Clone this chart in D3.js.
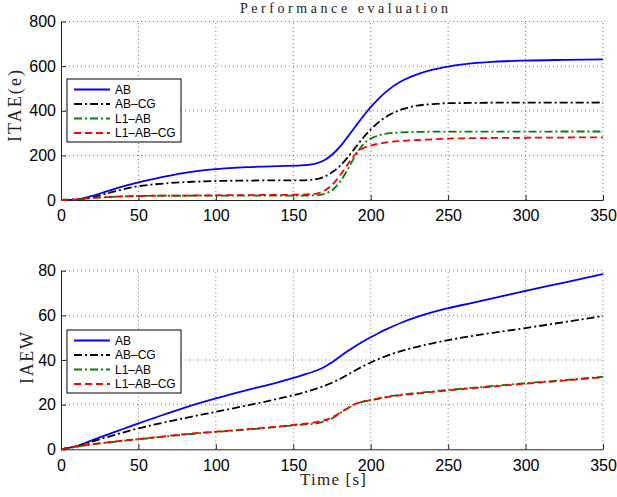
<!doctype html>
<html lang="en">
  <head>
    <meta charset="utf-8">
    <title>Performance evaluation</title>
    <script src="https://d3js.org/d3.v7.min.js"></script>
    <style>
      body { margin: 0; background: #fff; }
      .tick text { font-family: "Liberation Sans", Arial, sans-serif; font-size: 16px; fill: #000; }
      .lbl { font-family: "Liberation Serif", "DejaVu Serif", serif; fill: #222; }
      .legend text { font-family: "Liberation Sans", Arial, sans-serif; font-size: 12px; fill: #000; }
    </style>
  </head>
  <body>
    <div id="chart"></div>
    <script>
    // sample times [s]
    var time = [0, 10, 20, 30, 40, 50, 60, 80, 100, 120, 140, 155, 165, 170, 175, 180, 185, 190, 195, 200, 205, 210, 220, 230, 240, 250, 265, 280, 300, 325, 350];

    var seriesNames = ['AB', 'AB–CG', 'L1–AB', 'L1–AB–CG'];

    // ITAE(e)
    var itaeAB     = [0, 2, 18, 40, 61, 79, 95, 122, 138, 147, 152, 155, 164, 178, 203, 238, 282, 328, 374, 416, 453, 486, 533, 563, 584, 598, 612, 620, 625, 628, 630];
    var itaeABCG   = [0, 2, 12, 30, 48, 62, 70, 80, 85, 87, 88, 88, 94, 104, 124, 152, 190, 234, 278, 316, 348, 373, 406, 423, 430, 434, 435, 436, 436, 436, 437];
    var itaeL1AB   = [0, 3, 9, 13, 16, 18, 19, 19, 20, 20, 20, 20, 21, 27, 44, 80, 135, 198, 248, 275, 289, 297, 303, 305, 306, 306, 306, 306, 306, 307, 307];
    var itaeL1ABCG = [0, 3, 9, 13, 16, 18, 19, 20, 21, 22, 23, 24, 29, 41, 68, 108, 158, 205, 232, 244, 252, 258, 265, 269, 272, 275, 277, 278, 279, 280, 281];

    // IAEW
    var iaewAB     = [0, 1.4, 4, 6.6, 9.1, 11.6, 14, 18.7, 22.8, 26.5, 30, 33, 35.3, 36.9, 39, 41.5, 43.9, 46.2, 48.3, 50.2, 52, 53.7, 56.8, 59.3, 61.4, 63.2, 65.5, 67.8, 71, 74.7, 78.5];
    var iaewABCG   = [0, 1.3, 3.4, 5.5, 7.5, 9.4, 11, 14, 16.8, 19.6, 22.6, 25.1, 27.2, 28.4, 29.8, 31.5, 33.4, 35.3, 37.2, 38.9, 40.4, 41.8, 44.1, 45.9, 47.5, 48.9, 50.7, 52.3, 54.3, 57, 59.7];
    var iaewL1AB   = [0, 1.2, 2.2, 3, 3.8, 4.5, 5.2, 6.6, 7.8, 8.8, 10, 11, 11.6, 12.4, 13.8, 16, 18.3, 20.2, 21.4, 22.1, 22.8, 23.5, 24.5, 25.2, 25.9, 26.6, 27.5, 28.4, 29.6, 31, 32.5];
    var iaewL1ABCG = [0, 1.2, 2.3, 3.1, 3.9, 4.6, 5.3, 6.8, 7.9, 9, 10.2, 11.3, 12.2, 13, 14.3, 16.3, 18.4, 20.3, 21.3, 22, 22.6, 23.3, 24.3, 25, 25.7, 26.4, 27.3, 28.2, 29.4, 30.8, 32.3];

    var xTicks = [0, 50, 100, 150, 200, 250, 300, 350];
    var itaeTicks = [0, 200, 400, 600, 800];
    var iaewTicks = [0, 20, 40, 60, 80];

    var colors = ['#0000ff', '#000000', '#008000', '#ff0000'];
    var dashes = [null, '8,3,2,3', '8,3,2,3', '7,4'];

    var svg = d3.select('#chart').append('svg')
      .attr('width', 617).attr('height', 497);

    var x = d3.scaleLinear().domain([0, 350]).range([61, 603]);

    function panel(yDomain, yRange, yTicks, data, legendTop) {
      var y = d3.scaleLinear().domain(yDomain).range(yRange);
      var g = svg.append('g');

      // dotted grid
      g.append('g').selectAll('line.v').data(xTicks.slice(1)).enter().append('line')
        .attr('x1', d => x(d)).attr('x2', d => x(d))
        .attr('y1', y.range()[0]).attr('y2', y.range()[1])
        .attr('stroke', '#555').attr('stroke-width', 0.8).attr('stroke-dasharray', '1,3');
      g.append('g').selectAll('line.h').data(yTicks.slice(1)).enter().append('line')
        .attr('y1', d => y(d)).attr('y2', d => y(d))
        .attr('x1', x.range()[0]).attr('x2', x.range()[1])
        .attr('stroke', '#555').attr('stroke-width', 0.8).attr('stroke-dasharray', '1,3');

      // axes, ticks pointing inwards
      g.append('g')
        .attr('transform', 'translate(0,' + y.range()[0] + ')')
        .call(d3.axisBottom(x).tickValues(xTicks).tickSizeInner(-5).tickSizeOuter(0).tickPadding(10))
        .call(a => a.select('.domain').attr('stroke', '#222'))
        .call(a => a.selectAll('.tick line').attr('stroke', '#222'));
      g.append('g')
        .attr('transform', 'translate(' + x.range()[0] + ',0)')
        .call(d3.axisLeft(y).tickValues(yTicks).tickSizeInner(-5).tickSizeOuter(0).tickPadding(5))
        .call(a => a.select('.domain').attr('stroke', '#222'))
        .call(a => a.selectAll('.tick line').attr('stroke', '#222'));

      // curves
      var line = d3.line().x((d, i) => x(time[i])).y(d => y(d)).curve(d3.curveMonotoneX);
      data.forEach(function(s, k) {
        g.append('path').datum(s)
          .attr('d', line)
          .attr('fill', 'none')
          .attr('stroke', colors[k])
          .attr('stroke-width', 1.8)
          .attr('stroke-dasharray', dashes[k]);
      });

      // legend
      var lg = g.append('g').attr('class', 'legend');
      lg.append('rect')
        .attr('x', 67).attr('y', legendTop).attr('width', 114).attr('height', 63)
        .attr('fill', '#fff').attr('stroke', '#000').attr('stroke-width', 1);
      seriesNames.forEach(function(name, k) {
        var yy = legendTop + 10.5 + k * 14.5;
        lg.append('line')
          .attr('x1', 74).attr('x2', 110).attr('y1', yy).attr('y2', yy)
          .attr('stroke', colors[k]).attr('stroke-width', 1.8)
          .attr('stroke-dasharray', dashes[k]);
        lg.append('text').attr('x', 115).attr('y', yy).attr('dy', '0.36em').text(name);
      });
      return g;
    }

    panel([0, 800], [200, 21.5], itaeTicks, [itaeAB, itaeABCG, itaeL1AB, itaeL1ABCG], 79);
    panel([0, 80], [449.3, 270.7], iaewTicks, [iaewAB, iaewABCG, iaewL1AB, iaewL1ABCG], 330);

    // title and axis labels
    svg.append('text').attr('class', 'lbl')
      .attr('x', 240).attr('y', 13).attr('font-size', 14)
      .attr('textLength', 208).attr('lengthAdjust', 'spacing')
      .text('Performance evaluation');
    svg.append('text').attr('class', 'lbl')
      .attr('transform', 'translate(21,142)rotate(-90)').attr('font-size', 18)
      .attr('textLength', 72).attr('lengthAdjust', 'spacing')
      .text('ITAE(e)');
    svg.append('text').attr('class', 'lbl')
      .attr('transform', 'translate(33,384)rotate(-90)').attr('font-size', 18)
      .attr('textLength', 52).attr('lengthAdjust', 'spacing')
      .text('IAEW');
    svg.append('text').attr('class', 'lbl')
      .attr('x', 300).attr('y', 485).attr('font-size', 17)
      .attr('textLength', 66).attr('lengthAdjust', 'spacing')
      .text('Time [s]');
    </script>
  </body>
</html>
